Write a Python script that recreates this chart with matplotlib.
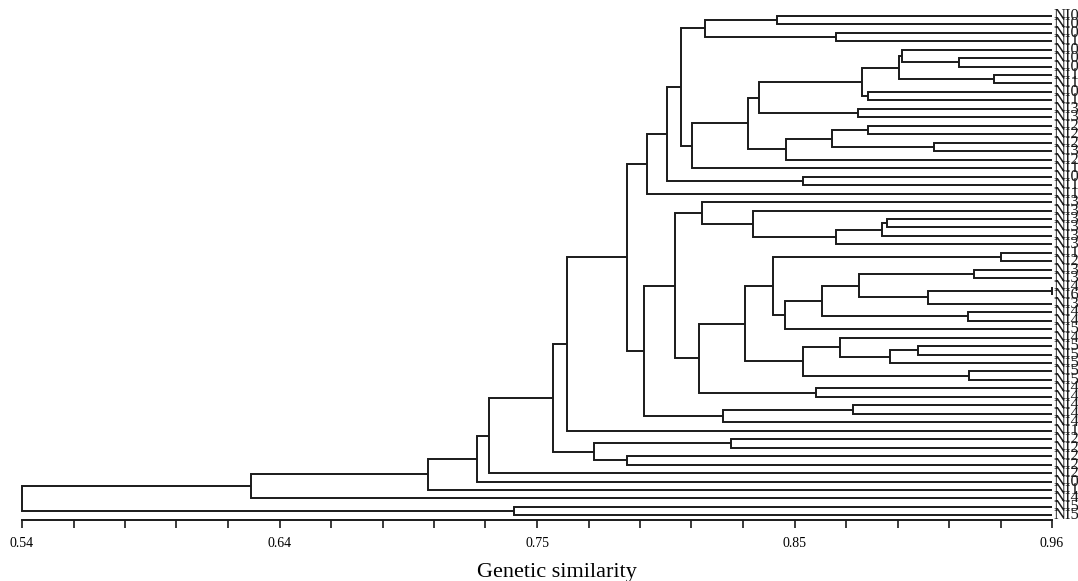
import numpy as np
import matplotlib
matplotlib.use('Agg')
from matplotlib import pyplot as plt

plt.rcParams['font.family'] = ['Liberation Serif', 'DejaVu Serif']

# leaf names, top to bottom (only the first characters are visible)
labels = ['NI01', 'NI02', 'NI09', 'NI14', 'NI06', 'NI07', 'NI08', 'NI11', 'NI12', 'NI05',
          'NI10', 'NI32', 'NI34', 'NI24', 'NI28', 'NI27', 'NI30', 'NI26', 'NI16', 'NI03',
          'NI13', 'NI15', 'NI31', 'NI33', 'NI35', 'NI36', 'NI37', 'NI38', 'NI17', 'NI29',
          'NI39', 'NI39', 'NI43', 'NI60', 'NI37', 'NI41', 'NI42', 'NI50', 'NI45', 'NI51',
          'NI52', 'NI53', 'NI55', 'NI56', 'NI40', 'NI44', 'NI46', 'NI47', 'NI48', 'NI18',
          'NI21', 'NI22', 'NI23', 'NI25', 'NI20', 'NI04', 'NI19', 'NI49', 'NI54', 'NI57']

# merges (linkage style): ids < 60 are leaves, 60+k is merge k
left = [0, 2, 60, 5, 4, 7, 64, 9, 66, 11,
        68, 13, 15, 71, 73, 70, 75, 62, 19, 77,
        79, 24, 81, 82, 23, 22, 28, 30, 32, 88,
        87, 35, 90, 92, 86, 39, 95, 38, 42, 97,
        94, 44, 100, 85, 46, 104, 103, 80, 107, 50,
        52, 109, 108, 112, 113, 114, 115, 58, 116]
right = [1, 3, 61, 6, 63, 8, 65, 10, 67, 12,
         69, 14, 16, 72, 17, 74, 18, 76, 20, 78,
         21, 25, 26, 27, 83, 84, 29, 31, 33, 34,
         89, 36, 91, 37, 93, 40, 41, 96, 43, 98,
         99, 45, 101, 102, 47, 48, 105, 106, 49, 51,
         53, 110, 111, 54, 55, 56, 57, 59, 117]
similarity = [0.848, 0.872, 0.8185, 0.922, 0.899, 0.9364, 0.8976, 0.8849, 0.8827, 0.8808,
              0.8405, 0.8849, 0.912, 0.8704, 0.8514, 0.8362, 0.8131, 0.8087, 0.8586, 0.8031,
              0.795, 0.8926, 0.8908, 0.8718, 0.838, 0.8172, 0.9392, 0.9282, 0.96, 0.9096,
              0.8814, 0.9256, 0.8661, 0.8513, 0.8464, 0.9052, 0.8938, 0.8737, 0.9262, 0.8586,
              0.8348, 0.8636, 0.8162, 0.8064, 0.879, 0.8257, 0.7938, 0.7866, 0.7621, 0.8291,
              0.7866, 0.7734, 0.7564, 0.7304, 0.7254, 0.7054, 0.6334, 0.7407, 0.54]

major_ticks = [0.54, 0.645, 0.75, 0.855, 0.96]
major_labels = ['0.54', '0.64', '0.75', '0.85', '0.96']

n = len(labels)
xmax = 0.96
pos_x = {i: xmax for i in range(n)}
pos_y = {i: float(i) for i in range(n)}

fig = plt.figure(figsize=(10.78, 5.81), dpi=100)
ax = fig.add_axes([22/1078, 1 - 520/581, 1030/1078, 508.5/581])

lc = '#1a1a1a'
for k in range(len(similarity)):
    a, b, s = left[k], right[k], similarity[k]
    ax.plot([pos_x[a], s, s, pos_x[b]], [pos_y[a], pos_y[a], pos_y[b], pos_y[b]],
            color=lc, lw=1.4, solid_capstyle='butt', solid_joinstyle='miter', clip_on=False)
    pos_x[n + k] = s
    pos_y[n + k] = (pos_y[a] + pos_y[b]) / 2

for i, lab in enumerate(labels):
    ax.text(xmax + 0.0006, i, lab, fontsize=12, va='center', ha='left', color=lc, clip_on=False)

ax.set_xlim(0.54, 0.96)
ax.set_ylim(n - 1 + 0.54, -0.5)
ax.set_yticks([])
for sp in ['left', 'right', 'top']:
    ax.spines[sp].set_visible(False)
ax.spines['bottom'].set_linewidth(1.4)
ax.spines['bottom'].set_color(lc)
ax.set_xticks(major_ticks)
ax.set_xticklabels(major_labels, fontsize=10)
ax.set_xticks(np.linspace(0.54, 0.96, 21), minor=True)
ax.tick_params(axis='x', which='both', direction='out', length=6, width=1.2, color=lc)
ax.tick_params(axis='x', which='major', pad=6)
ax.set_xlabel('Genetic similarity', fontsize=16)
ax.xaxis.set_label_coords(0.519, -0.085)
ax.patch.set_visible(False)

fig.savefig('out.png', dpi=100)
